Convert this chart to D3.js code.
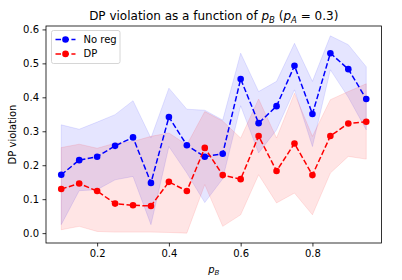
<!DOCTYPE html>
<html>
<head>
<meta charset="utf-8">
<script src="https://cdn.jsdelivr.net/npm/d3@7"></script>
<style>
  body { margin: 0; background: #fff; }
  svg text { font-family: 'DejaVu Sans', sans-serif; fill: #000; }
  .axis text { font-size: 10px; }
  .axis line { stroke: #000; stroke-width: 0.8; }
</style>
</head>
<body>
<div id="chart"></div>
<script>
const pB = [0.1, 0.15, 0.2, 0.25, 0.3, 0.35, 0.4, 0.45, 0.5, 0.55, 0.6, 0.65, 0.7, 0.75, 0.8, 0.85, 0.9, 0.95];

const noRegMean = [0.172, 0.215, 0.225, 0.257, 0.282, 0.148, 0.342, 0.259, 0.225, 0.234, 0.454, 0.324, 0.374, 0.493, 0.351, 0.530, 0.483, 0.395];
const noRegLow  = [0.025, 0.125, 0.128, 0.157, 0.167, 0.025, 0.255, 0.177, 0.090, 0.160, 0.375, 0.236, 0.304, 0.422, 0.255, 0.481, 0.400, 0.304];
const noRegHigh = [0.319, 0.306, 0.327, 0.349, 0.390, 0.280, 0.427, 0.365, 0.362, 0.333, 0.530, 0.417, 0.447, 0.559, 0.447, 0.581, 0.555, 0.490];

const dpMean = [0.130, 0.146, 0.124, 0.087, 0.082, 0.080, 0.151, 0.124, 0.251, 0.171, 0.159, 0.286, 0.183, 0.264, 0.171, 0.286, 0.323, 0.328];
const dpLow  = [0.010, 0.020, 0.005, 0.003, 0.003, 0.003, 0.002, 0.000, 0.143, 0.020, 0.054, 0.172, 0.089, 0.118, 0.054, 0.177, 0.226, 0.218];
const dpHigh = [0.252, 0.262, 0.250, 0.265, 0.270, 0.285, 0.295, 0.260, 0.358, 0.330, 0.280, 0.395, 0.280, 0.412, 0.285, 0.393, 0.417, 0.440];

const xTicks = [0.2, 0.4, 0.6, 0.8];
const yTicks = [0.0, 0.1, 0.2, 0.3, 0.4, 0.5, 0.6];

const series = [
  { name: 'No reg', color: '#0000ff', mean: noRegMean, low: noRegLow, high: noRegHigh },
  { name: 'DP', color: '#ff0000', mean: dpMean, low: dpLow, high: dpHigh }
];

const width = 402;
const height = 280;
const margins = { top: 26, right: 20.5, bottom: 37, left: 46 };
const chartWidth = width - margins.left - margins.right;
const chartHeight = height - margins.top - margins.bottom;

const svg = d3.select('#chart')
  .append('svg')
  .attr('width', width)
  .attr('height', height)
  .attr('viewBox', `0 0 ${width} ${height}`);

const plotG = svg.append('g')
  .attr('transform', `translate(${margins.left},${margins.top})`);

// matplotlib style 5% margins around the data
const xExt = d3.extent(pB);
const xPad = (xExt[1] - xExt[0]) * 0.05;
const yMin = d3.min([...noRegLow, ...dpLow]);
const yMax = d3.max([...noRegHigh, ...dpHigh]);
const yPad = (yMax - yMin) * 0.05;

const xScale = d3.scaleLinear()
  .domain([xExt[0] - xPad, xExt[1] + xPad])
  .range([0, chartWidth]);
const yScale = d3.scaleLinear()
  .domain([yMin - yPad, yMax + yPad])
  .range([chartHeight, 0]);

// bands
series.forEach(s => {
  const area = d3.area()
    .x((d, i) => xScale(pB[i]))
    .y0((d, i) => yScale(s.low[i]))
    .y1((d, i) => yScale(s.high[i]));
  plotG.append('path')
    .attr('d', area(s.mean))
    .attr('fill', s.color)
    .attr('fill-opacity', 0.1)
    .attr('stroke', s.color)
    .attr('stroke-opacity', 0.1)
    .attr('stroke-width', 1);
});

// mean lines + markers
series.forEach(s => {
  const line = d3.line()
    .x((d, i) => xScale(pB[i]))
    .y(d => yScale(d));
  plotG.append('path')
    .attr('d', line(s.mean))
    .attr('fill', 'none')
    .attr('stroke', s.color)
    .attr('stroke-width', 1.5)
    .attr('stroke-dasharray', '5.55,2.4');
  plotG.selectAll(null)
    .data(s.mean)
    .enter()
    .append('circle')
    .attr('cx', (d, i) => xScale(pB[i]))
    .attr('cy', d => yScale(d))
    .attr('r', 3.3)
    .attr('fill', s.color);
});

// axes
const xAxis = d3.axisBottom(xScale)
  .tickValues(xTicks)
  .tickSize(3.5)
  .tickPadding(3.5)
  .tickFormat(d3.format('.1f'));
const yAxis = d3.axisLeft(yScale)
  .tickValues(yTicks)
  .tickSize(3.5)
  .tickPadding(3.5)
  .tickFormat(d3.format('.1f'));

plotG.append('g')
  .attr('class', 'x axis')
  .attr('transform', `translate(0,${chartHeight})`)
  .call(xAxis)
  .call(g => g.select('.domain').remove());

plotG.append('g')
  .attr('class', 'y axis')
  .call(yAxis)
  .call(g => g.select('.domain').remove());

svg.selectAll('.axis text').attr('font-family', 'DejaVu Sans').attr('fill', '#000');

plotG.append('rect')
  .attr('width', chartWidth)
  .attr('height', chartHeight)
  .attr('fill', 'none')
  .attr('stroke', '#000')
  .attr('stroke-width', 0.8);

// title
const title = svg.append('text')
  .attr('x', margins.left + chartWidth / 2)
  .attr('y', 20)
  .attr('text-anchor', 'middle')
  .style('font-size', '12px');
title.append('tspan').text('DP violation as a function of ');
title.append('tspan').style('font-style', 'italic').text('p');
title.append('tspan').attr('dy', 2.5).style('font-size', '8.5px').style('font-style', 'italic').text('B');
title.append('tspan').attr('dy', -2.5).text(' (');
title.append('tspan').style('font-style', 'italic').text('p');
title.append('tspan').attr('dy', 2.5).style('font-size', '8.5px').style('font-style', 'italic').text('A');
title.append('tspan').attr('dy', -2.5).text(' = 0.3)');

// axis labels
const xLabel = svg.append('text')
  .attr('x', margins.left + chartWidth / 2)
  .attr('y', 273)
  .attr('text-anchor', 'middle')
  .style('font-size', '10px');
xLabel.append('tspan').style('font-style', 'italic').text('p');
xLabel.append('tspan').attr('dy', 2).style('font-size', '7px').style('font-style', 'italic').text('B');

svg.append('text')
  .attr('transform', `translate(16,${margins.top + chartHeight / 2}) rotate(-90)`)
  .attr('text-anchor', 'middle')
  .style('font-size', '10px')
  .text('DP violation');

// legend
const legend = svg.append('g')
  .attr('transform', `translate(${margins.left + 5.5},${margins.top + 4.5})`);

legend.append('rect')
  .attr('width', 68.5)
  .attr('height', 33)
  .attr('rx', 2)
  .attr('fill', '#fff')
  .attr('fill-opacity', 0.8)
  .attr('stroke', '#cccccc')
  .attr('stroke-width', 0.8);

series.forEach((s, i) => {
  const row = legend.append('g')
    .attr('transform', `translate(0,${9 + i * 14.4})`);
  row.append('line')
    .attr('x1', 4)
    .attr('x2', 24)
    .attr('stroke', s.color)
    .attr('stroke-width', 1.5)
    .attr('stroke-dasharray', '5.55,2.4');
  row.append('circle')
    .attr('cx', 14)
    .attr('r', 3.3)
    .attr('fill', s.color);
  row.append('text')
    .attr('x', 32)
    .attr('dy', '0.35em')
    .style('font-size', '10px')
    .text(s.name);
});
</script>
</body>
</html>
